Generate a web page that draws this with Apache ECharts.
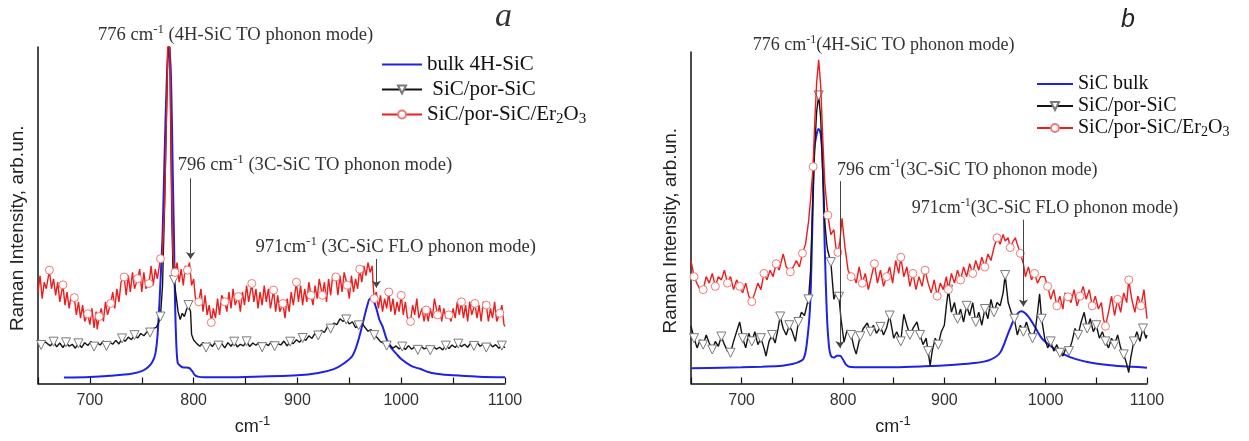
<!DOCTYPE html>
<html><head><meta charset="utf-8">
<script src="https://cdn.jsdelivr.net/npm/echarts@6/dist/echarts.min.js"></script>
<style>html,body{margin:0;padding:0;background:#fff}#c{width:1249px;height:441px}</style>
</head><body><div id="c"></div>
<script>
// ---------- tick labels ----------
const xTickLabels = [700, 800, 900, 1000, 1100];

// ---------- panel a ----------
const bulkA = [[675,1.8],[700,2.0],[720,2.4],[740,3.0],[750,3.8],[756,5.0],[760,6.5],[763,9],[765,14],[767,24.5],[769,38],[770,45],[772,70],[774,92],[776,103],[778,95],[780,62],[781,45],[782,26],[783,14.5],[784.5,6.5],[787,5.4],[790,4.9],[793,4.9],[796,4.7],[799,3.6],[801,2.6],[804,2.1],[810,1.9],[850,2.0],[900,2.5],[920,3.2],[935,4.4],[945,6.2],[953,8.5],[958,12.5],[963,18.5],[967,23.5],[970,26],[973,25.5],[976,23],[979,19.5],[982,17.5],[986,13.5],[990,11],[995,9.2],[1000,7.5],[1010,5.3],[1018,4.5],[1026,3.5],[1034,3.0],[1050,2.5],[1075,2.1],[1100,1.9]];

const porA = [[650,12.5],[653,11.8],[656,13.0],[659,12.2],[662,11.5],[665,12.8],[668,11.2],[671,12.4],[674,11.0],[677,12.6],[680,11.4],[683,12.0],[686,10.8],[689,12.3],[692,11.0],[695,12.5],[698,11.6],[701,12.9],[704,11.3],[707,12.4],[710,11.8],[713,13.0],[716,11.5],[719,12.7],[722,12.0],[725,13.2],[728,12.1],[731,13.8],[734,12.9],[737,14.2],[740,13.4],[743,14.8],[746,13.9],[749,15.3],[752,14.6],[755,15.8],[758,15.6],[761,16.8],[764,17.2],[766,18.5],[768,20.5],[770,30],[772,55],[774,85],[775,103],[777,103],[778,75],[779,50],[780,36],[781,31.7],[783,27],[785,22],[787,19.6],[789,21.5],[791,20.5],[793,22.5],[795,24],[797,22],[798,15],[800,13.3],[803,12.2],[806,11.4],[809,12.6],[812,11.0],[815,12.4],[818,11.3],[821,12.7],[824,11.6],[827,12.2],[830,10.9],[833,12.5],[836,11.4],[839,12.8],[842,11.2],[845,12.0],[848,11.5],[851,12.9],[854,11.3],[857,12.4],[860,11.7],[863,12.6],[866,11.1],[869,12.3],[872,11.6],[875,12.9],[878,11.4],[881,12.2],[884,11.8],[887,13.0],[890,11.5],[893,12.8],[896,12.2],[899,13.4],[902,12.6],[905,13.9],[908,13.2],[911,14.6],[914,13.8],[917,15.4],[920,14.7],[923,16.3],[926,15.6],[929,17.4],[932,16.8],[935,18.5],[938,18.0],[941,19.8],[944,19.0],[947,19.6],[950,18.2],[953,18.9],[956,17.1],[959,17.8],[962,18.6],[965,17.2],[968,16.0],[971,16.5],[974,14.8],[977,14.0],[980,12.8],[983,12.4],[986,11.6],[989,11.9],[992,10.8],[995,11.5],[998,10.6],[1001,11.3],[1004,10.4],[1007,11.6],[1010,10.5],[1013,11.2],[1016,10.3],[1019,11.4],[1022,10.6],[1025,11.0],[1028,10.2],[1031,11.3],[1034,10.5],[1037,11.1],[1040,10.3],[1043,11.6],[1046,10.7],[1049,11.8],[1052,11.0],[1055,12.2],[1058,11.3],[1061,12.0],[1064,11.1],[1067,12.4],[1070,11.5],[1073,12.6],[1076,11.4],[1079,12.1],[1082,11.0],[1085,12.3],[1088,11.2],[1091,11.9],[1094,10.8],[1097,11.6],[1100,11.0]];

const erA = [[650,28],[652,33],[654,26],[656,31],[658,29],[661,34.7],[663,29],[665,32],[667,27],[669,31],[671,25],[674,30.2],[676,24],[678,28],[680,23],[682,27],[685,26.3],[687,21],[689,25],[691,20],[693,24],[695,19],[698,21.3],[700,18],[702,23],[704,17],[706,22],[707,16.6],[709,20.5],[711,23],[713,19],[715,25],[717,21],[720,24.5],[722,28],[724,23],[726,29],[728,25],[730,31],[733,32.6],[735,27],[737,33],[739,28],[741,34],[743,29],[746,32.1],[748,35],[750,28],[752,34],[754,29],[757,30.6],[759,36],[761,30],[763,35],[765,32],[768,38.2],[770,40],[772,55],[774,85],[775,103],[777,103],[778,80],[779,55],[780,40],[782,34],[784,37],[786,31],[788,35],[790,30],[792,36],[794,34.7],[796,37],[798,30],[800,32],[802,25],[805,25],[807,29],[809,22],[811,27],[813,21],[815,24],[817,18.7],[819,23],[821,20],[823,26],[825,21],[827,27],[830,25],[832,22],[834,28],[836,23],[838,29],[840,24],[843,26.6],[845,22],[847,28],[849,24],[851,30],[853,25],[856,30.6],[858,25],[860,29],[862,23],[864,28],[866,24],[868,30],[870,25],[872,29],[874,23],[877,28.6],[879,22],[881,27],[883,22],[886,24.5],[888,20],[890,26],[892,22],[894,28],[896,24],[899,31],[901,25],[903,30],[905,24],[907,29],[909,25],[911,31],[913,27],[915,24],[917,30],[919,26],[921,32],[924,27],[926,31],[928,25],[930,32],[932,27],[934,33],[937,32.6],[939,27],[941,33],[943,28],[945,34],[948,30.1],[950,26],[952,33],[954,28],[956,32],[958,29],[960,35],[962,31],[964,36],[966,33],[968,37],[970,34],[972,36],[973,30],[974,26],[976,28],[978,23],[980,27],[982,22],[984,26],[986,23],[988,28],[990,22],[992,26],[994,21],[996,25],[998,22],[1000,27],[1002,21],[1004,25],[1006,20],[1009,19],[1011,24],[1013,21],[1015,26],[1017,20],[1020,23],[1022,19],[1024,22.5],[1026,19],[1028,23],[1030,20],[1032,26],[1035,21],[1037,24],[1039,19],[1041,23],[1043,20],[1046,21],[1048,19],[1050,23],[1052,20],[1054,25],[1056,21],[1058,25],[1060,20],[1062,24],[1064,19],[1066,25],[1068,21],[1071,24.5],[1073,20],[1075,24],[1077,19],[1079,25],[1082,24],[1084,19],[1086,23],[1088,20],[1090,25],[1092,19],[1095,21.5],[1097,24],[1099,18],[1100,17.5]];

const porMarksA = [652,664,676,690,703,717,730,744,757,768,781,796,811,825,838,852,865,879,892,906,919,932,946,960,973,986,1001,1015,1029,1042,1056,1069,1083,1096];
const erMarksA = [661,674,685,698,709,720,733,746,757,768,782,794,805,817,830,843,856,877,886,899,913,924,937,948,960,974,988,1000,1009,1024,1035,1046,1058,1071,1082,1095];

// ---------- panel b ----------
const bulkB = [[650,4.7],[680,4.9],[700,5.0],[720,5.2],[740,5.5],[750,6.0],[756,6.6],[761,7.6],[764,11.6],[767.5,23.8],[770,52],[771.6,72],[774,77],[776,78.6],[778,77],[780,68],[782,42],[784,22],[786,12],[788,8.6],[791,8.0],[794,8.6],[797,8.6],[800,7.4],[803,5.8],[806,5.2],[820,5.0],[850,5.0],[880,5.3],[910,5.8],[930,6.3],[945,7.3],[955,9.5],[963,15.5],[970,20.5],[976,22.3],[982,21],[989,17.7],[996,14],[1003,12],[1009,10.7],[1018,9],[1029,7.6],[1045,6.4],[1069,5.5],[1085,5.2],[1100,4.9]];

const porB = [[650,17.7],[653,14],[656,11],[659,13.5],[662,12],[665,15],[668,12.5],[671,10.5],[674,13],[677,11.5],[680,14.5],[683,12],[686,10],[689,9.5],[692,13],[695,16],[698,19],[701,14],[704,11],[707,15.5],[710,13],[713,16],[716,12],[719,14],[722,11],[724,8.5],[727,13],[730,15],[733,12.5],[736,17],[738,20.7],[741,17],[744,15],[747,18],[750,16],[753,13],[756,19],[759,22],[762,21],[765,25],[766,26],[768,35],[770,55],[772,72],[774,84],[776,89],[778,82],[780,65],[782,50],[784,43],[785,41],[788,37.5],[791,26],[793,28],[796,26.8],[798,20],[801,12.8],[804,16.5],[808,15],[811,11],[813,9.1],[817,14.6],[820,17],[824,18.7],[827,16],[830,18],[833,15.5],[837,17.5],[840,15],[843,17.2],[846,21],[850,14],[853,16],[857,13],[860,21.4],[863,18],[866,15],[869,17],[873,19],[876,15],[879,12],[882,14],[884,10],[886,5.5],[888,10],[891,14],[894,12],[897,16],[900,18],[902,24],[904,29],[907,22],[910,25],[913,20],[916,23],[919,19],[922,24],[925,21],[928,25],[931,19],[934,22],[937,18],[940,23],[943,20],[946,26],[949,22],[952,25],[955,24],[958,28],[960,33.5],[963,25],[966,22],[969,20],[972,15],[975,18],[978,16],[981,19],[984,16],[987,14],[990,17],[992,22],[994,27.7],[996,20],[999,14],[1002,11],[1005,13],[1008,10],[1011,12],[1014,9.5],[1017,8.5],[1020,11],[1023,10],[1026,13],[1029,17],[1032,15],[1035,19],[1038,22],[1041,17],[1044,20],[1047,16],[1050,18],[1053,14],[1056,16],[1059,13],[1062,11],[1065,14],[1068,12],[1071,15],[1074,11],[1077,9],[1080,6],[1082,3.4],[1084,8],[1087,13],[1090,16],[1093,13],[1096,17],[1099,14],[1100,15]];

const erB = [[650,38],[653,33],[656,30.8],[659,29],[662,29],[665,33],[668,31],[671,34],[674,30],[677,33],[680,32],[683,35],[686,31],[689,33],[692,29],[695,32],[698,30],[701,28],[704,31],[707,27],[710,25.3],[713,28],[716,31],[719,29],[722,34],[725,32],[728,35],[731,33],[734,37],[737,35],[741,40],[744,36],[748,34.5],[751,36],[754,38],[757,36],[760,40.2],[763,43],[766,50],[768,57],[770.5,67],[772,80],[774,93],[776,100],[778,92],[780,76],[782,62],[785,52],[788,46],[791,47.5],[793,42],[795,40.5],[797,44],[799,51],[800,51],[802,42],[805,35],[808,33],[810,34],[813,31],[816,36],[819,31],[822,34],[825,29],[828,33],[831,37],[834,31],[837,35],[840,30],[843,33],[846,36],[849,31],[852,38],[855,34],[857,39],[860,33],[863,36],[866,30],[869,34],[872,29],[875,33],[878,30],[881,35],[884,31],[887,28],[890,32],[893,27],[896,31],[899,29],[902,33],[904,29],[907,34],[910,31],[913,35],[916,32],[919,36],[922,33],[925,37],[928,34],[931,38],[934,35],[937,39],[940,36],[943,40],[946,38],[949,42],[952,45],[955,43],[958,46],[960,44],[963,45],[965,42],[968,44],[970,45],[972,43],[975,40.2],[978,37],[980,33],[983,36],[986,32],[989,34],[992,31],[995,33],[999,33],[1002,30],[1005,26],[1008,29],[1011,24],[1014,27],[1017,23],[1019,28],[1022,26.8],[1025,25],[1028,29],[1031,24],[1034,27],[1037,30],[1040,26],[1043,29],[1046,24],[1049,27],[1052,23],[1055,25],[1057,20],[1059,17.7],[1062,22],[1065,27],[1068,21],[1071,26],[1074,22],[1077,28],[1080,25],[1082,32],[1085,26],[1088,22],[1091,27],[1094,24],[1097,29],[1100,20]];

const porMarksB = [652,661,671,680,689,700,710,719,729,738,748,757,766,776,788,796,808,817,827,836,846,857,866,875,885,894,904,913,922,931,940,949,960,969,978,987,996,1005,1014,1023,1032,1041,1050,1059,1068,1077,1087,1096];
const erMarksB = [652,662,674,686,698,710,722,734,748,760,770.5,785,795,808,819,831,843,857,869,881,893,904,916,928,940,952,965,975,989,1002,1011,1022,1034,1046,1059,1071,1082,1094];

// ---------- annotations (data coords) ----------
const notesA = [
  {x:707.7, y:106.6, text:'{m|776 cm}{sup|-1}{m| (4H-SiC TO phonon mode)}'},
  {x:784.6, y:67.0,  text:'{m|796 cm}{sup|-1}{m| (3C-SiC TO phonon mode)}'},
  {x:859.6, y:41.8,  text:'{m|971cm}{sup|-1}{m| (3C-SiC FLO phonon mode)}'}
];
const arrowsA = [[797, 62.8, 38.1],[976, 38.1, 29.3]];
const notesB = [
  {x:711, y:104.4, text:'{m|776 cm}{sup|-1}{m|(4H-SiC TO phonon mode)}'},
  {x:794, y:66.0,  text:'{m|796 cm}{sup|-1}{m|(3C-SiC TO phonon mode)}'},
  {x:867.8, y:54.2, text:'{m|971cm}{sup|-1}{m|(3C-SiC FLO phonon mode)}'}
];
const arrowsB = [[797, 62.5, 11],[978, 50.6, 23.8]];

// ---------- helpers ----------
function marked(pairs, marks){
  const idx = new Set(marks.map(m => {
    let best = 0, bd = Infinity;
    pairs.forEach((p,i) => { const d = Math.abs(p[0]-m); if (d < bd){bd = d; best = i;} });
    return best;
  }));
  return pairs.map((p,i) => idx.has(i) ? {value:p} : {value:p, symbol:'none'});
}
function arrowLines(arr){
  return arr.map(a => [{coord:[a[0], a[1]]},{coord:[a[0], a[2]]}]);
}
function lineIcon(w){
  return 'path://M0,0h0.1v0.1h-0.1Z M0,4.1h' + w + 'v1.9h-' + w + 'Z M' + (w-0.1) + ',9.9h0.1v0.1h-0.1Z';
}
const BLUE = '#2020e6', RED = '#ee1c1c', BLK = '#141414';
const subRich = (fs) => ({sub:{fontSize:fs, fontFamily:'Liberation Serif', color:'#111', padding:[9,0,0,0]}});
const legendFmt = (lead) => (n) => {
  let s = n.replace('Er2O3', 'Er{sub|2}O{sub|3}');
  if (lead && n === 'SiC/por-SiC') s = ' ' + s;
  return s;
};
function xAxisCfg(gi){
  return {
    type:'value', gridIndex:gi, min:650, max:1100, interval:50,
    axisLine:{show:true, onZero:false, lineStyle:{color:'#111', width:1.5}},
    axisTick:{show:true, inside:true, length:6, lineStyle:{color:'#111', width:1.2}},
    axisLabel:{margin:9, fontFamily:'Liberation Sans', fontSize:16, color:'#333',
      formatter: v => xTickLabels.indexOf(v) >= 0 ? String(v) : ''},
    splitLine:{show:false},
    name:'cm{sup|-1}', nameLocation:'middle', nameGap:31,
    nameTextStyle:{fontFamily:'Liberation Sans', fontSize:18, color:'#222', padding:[0, gi ? 52 : 38, 0, 0],
      rich:{sup:{fontSize:13, fontFamily:'Liberation Sans', color:'#222', padding:[0,0,12,0]}}}
  };
}
function yAxisCfg(gi, max){
  return {
    type:'value', gridIndex:gi, min:0, max:max,
    axisLine:{show:true, lineStyle:{color:'#111', width:1.5}},
    axisTick:{show:false}, axisLabel:{show:false}, splitLine:{show:false},
    name:'Raman Intensity, arb.un.', nameLocation:'middle', nameRotate:90, nameGap:11,
    nameTextStyle:{fontFamily:'Liberation Sans', fontSize:19, color:'#222', padding:[0, 26, 0, 0]}
  };
}
function bulkSeries(name, gi, data, arrows){
  return {type:'line', name, xAxisIndex:gi, yAxisIndex:gi, data, symbol:'none', smooth:0.3,
    lineStyle:{color:BLUE, width:2}, itemStyle:{color:BLUE}, z:2,
    markLine:{silent:true, symbol:['none','arrow'], symbolSize:7, animation:false,
      lineStyle:{color:'#444', width:1, type:'solid'}, label:{show:false}, data:arrowLines(arrows)}};
}
function porSeries(gi, data, marks){
  return {type:'line', name:'SiC/por-SiC', xAxisIndex:gi, yAxisIndex:gi, data:marked(data, marks),
    symbol:'triangle', symbolRotate:180, symbolSize:9, showSymbol:true,
    lineStyle:{color:BLK, width:1.4}, itemStyle:{color:'#fff', borderColor:'#7a7a7a', borderWidth:1}, z:3};
}
function erSeries(gi, data, marks){
  return {type:'line', name:'SiC/por-SiC/Er2O3', xAxisIndex:gi, yAxisIndex:gi, data:marked(data, marks),
    symbol:'circle', symbolSize:8, showSymbol:true,
    lineStyle:{color:RED, width:1.4}, itemStyle:{color:'#fff', borderColor:'#f07878', borderWidth:1}, z:4};
}

const chart = echarts.init(document.getElementById('c'), null, {renderer:'canvas'});
const option = {
  animation:false,
  backgroundColor:'#fff',
  title:[
    {text:'a', left:495, top:0, padding:0, textStyle:{fontFamily:'Liberation Serif', fontStyle:'italic', fontWeight:'normal', fontSize:34, color:'#333'}},
    {text:'b', left:1121, top:8, padding:0, textStyle:{fontFamily:'Liberation Sans', fontStyle:'italic', fontWeight:'normal', fontSize:25, color:'#222'}}
  ],
  grid:[
    {left:38, top:47, width:467, height:341},
    {left:691, top:52, width:456, height:336}
  ],
  xAxis:[xAxisCfg(0), xAxisCfg(1)],
  yAxis:[yAxisCfg(0, 103), yAxisCfg(1, 102.4)],
  legend:[
    {orient:'vertical', left:376, top:49, itemWidth:40, itemHeight:10, itemGap:4,
      data:[{name:'bulk 4H-SiC', icon:lineIcon(40)},'SiC/por-SiC','SiC/por-SiC/Er2O3'], formatter:legendFmt(true),
      textStyle:{fontFamily:'Liberation Serif', fontSize:21, color:'#111', rich:subRich(15)}},
    {orient:'vertical', left:1031, top:69, itemWidth:36, itemHeight:10, itemGap:2,
      data:[{name:'SiC bulk', icon:lineIcon(36)},'SiC/por-SiC','SiC/por-SiC/Er2O3'], formatter:legendFmt(false),
      textStyle:{fontFamily:'Liberation Serif', fontSize:20, color:'#111', rich:subRich(14)}}
  ],
  series:[
    bulkSeries('bulk 4H-SiC', 0, bulkA, arrowsA),
    porSeries(0, porA, porMarksA),
    erSeries(0, erA, erMarksA),
    bulkSeries('SiC bulk', 1, bulkB, arrowsB),
    porSeries(1, porB, porMarksB),
    erSeries(1, erB, erMarksB)
  ]
};
chart.setOption(option);

const noteRich = (fs) => ({
  m:{fontSize:fs, fontFamily:'Liberation Serif', fill:'#333'},
  sup:{fontSize:Math.round(fs*0.68), fontFamily:'Liberation Serif', fill:'#333', padding:[0,0,Math.round(fs*0.6),0]}
});
const graphics = [];
[[notesA,0,18.6],[notesB,1,18]].forEach(([notes, gi, fs]) => {
  notes.forEach(n => {
    const p = chart.convertToPixel({gridIndex:gi}, [n.x, n.y]);
    graphics.push({type:'text', x:p[0], y:p[1], silent:true, z:10,
      style:{text:n.text, align:'left', verticalAlign:'middle', fill:'#333',
        fontFamily:'Liberation Serif', fontSize:fs, rich:noteRich(fs)}});
  });
});
chart.setOption({graphic:graphics});
</script>
</body></html>
